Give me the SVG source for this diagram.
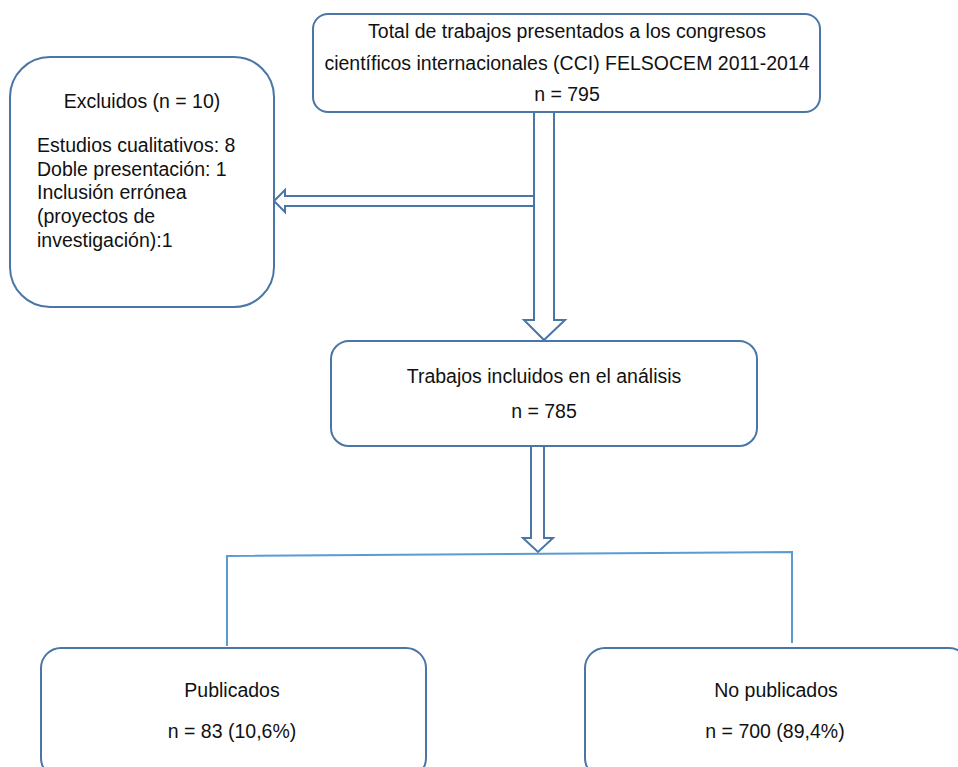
<svg xmlns="http://www.w3.org/2000/svg" width="958" height="767" viewBox="0 0 958 767">
<style>
.box{fill:#fff;stroke:#4a76a6;stroke-width:2}
.arr{fill:#fff;stroke:#4a76a6;stroke-width:2;stroke-linejoin:miter}
.ln{fill:none;stroke:#5b9bd5;stroke-width:2}
text{font-family:"Liberation Sans",Arial,sans-serif;font-size:19.5px;fill:#111}
.c{text-anchor:middle}
</style>
<rect width="958" height="767" fill="#fff"/>
<g id="connectors">
<polygon class="arr" points="534,111 554,111 554,320 565,320 544,340 524,320 534,320"/>
<polygon class="arr" points="534,196 285,196 285,190 274,201 285,212 285,206 534,206"/>
<polygon class="arr" points="531,446 544,446 544,538 553,538 538,552 523,538 531,538"/>
<polyline class="ln" points="227,646 227,556 792,552 792,643"/>
</g>
<g id="total">
<rect class="box" x="313" y="14" width="507" height="98" rx="15"/>
<text class="c" x="567" y="38">Total de trabajos presentados a los congresos</text>
<text class="c" x="567" y="70">científicos internacionales (CCI) FELSOCEM 2011-2014</text>
<text class="c" x="567" y="101">n = 795</text>
</g>
<g id="excluidos">
<rect class="box" x="10" y="57" width="264" height="250" rx="40"/>
<text class="c" x="142" y="108">Excluidos (n = 10)</text>
<text x="37" y="152">Estudios cualitativos: 8</text>
<text x="37" y="176">Doble presentación: 1</text>
<text x="37" y="199">Inclusión errónea</text>
<text x="37" y="223">(proyectos de</text>
<text x="37" y="247">investigación):1</text>
</g>
<g id="incluidos">
<rect class="box" x="331" y="341" width="426" height="105" rx="18"/>
<text class="c" x="544" y="383">Trabajos incluidos en el análisis</text>
<text class="c" x="544" y="418">n = 785</text>
</g>
<g id="publicados">
<rect class="box" x="41" y="648" width="385" height="130" rx="20"/>
<text class="c" x="232" y="697">Publicados</text>
<text class="c" x="232" y="738">n = 83 (10,6%)</text>
</g>
<g id="nopublicados">
<rect class="box" x="585" y="648" width="384" height="130" rx="20"/>
<text class="c" x="776" y="697">No publicados</text>
<text class="c" x="775" y="738">n = 700 (89,4%)</text>
</g>
</svg>
